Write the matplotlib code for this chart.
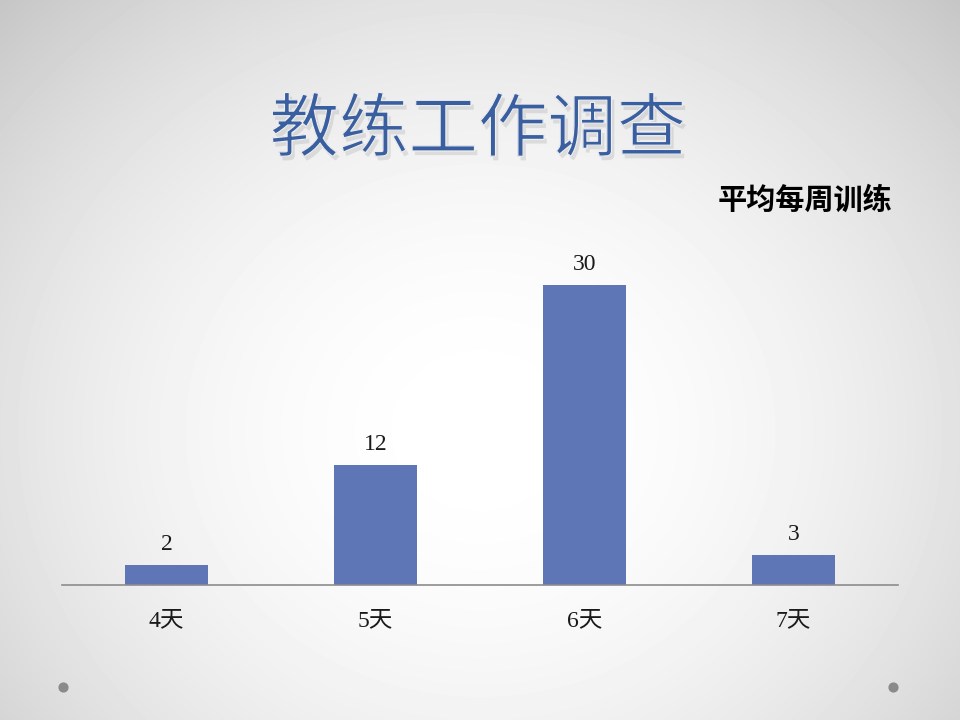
import matplotlib
matplotlib.use('Agg')
import matplotlib.pyplot as plt
import matplotlib.patheffects as pe
import numpy as np

plt.rcParams['font.family'] = ['Liberation Serif', 'Noto Sans CJK SC']

categories = ['4天', '5天', '6天', '7天']
values = [2, 12, 30, 3]
title = '教练工作调查'
subtitle = '平均每周训练'

fig = plt.figure(figsize=(9.6, 7.2), dpi=100)

# slide background: soft radial gradient, white low in the middle, grey corners
bg = fig.add_axes([0, 0, 1, 1])
yy, xx = np.mgrid[0:720, 0:960]
r = np.sqrt(((xx - 480) / 620.0) ** 2 + ((yy - 430) / 560.0) ** 2)
shade = np.clip(1 - 0.19 * r ** 2.0, 0, 1)
bg.imshow(shade, cmap='gray', vmin=0, vmax=1, extent=[0, 960, 720, 0], aspect='auto')
bg.set_xlim(0, 960)
bg.set_ylim(720, 0)
bg.axis('off')
bg.scatter([63, 893], [687, 687], s=40, color='#8a8a8a', zorder=3)

ax = fig.add_axes([62 / 960, 1 - 585 / 720, (898 - 62) / 960, 0.56])
ax.patch.set_alpha(0)
x = np.arange(len(categories))
bars = ax.bar(x, values, width=0.4, color='#5f76b6', zorder=2)
for b, v in zip(bars, values):
    ax.annotate(str(v), (b.get_x() + b.get_width() / 2, v), xytext=(0, 15),
                textcoords='offset points', ha='center', va='center',
                fontsize=17, color='#1a1a1a')
ax.set_xlim(-0.5, 3.5)
ax.set_ylim(0, 40.3)
ax.set_xticks(x)
ax.set_xticklabels(categories, fontsize=17, color='#1a1a1a')
ax.tick_params(axis='x', length=0, pad=18)
ax.set_yticks([])
for s in ['top', 'right', 'left']:
    ax.spines[s].set_visible(False)
ax.spines['bottom'].set_color('#8c8c8c')
ax.spines['bottom'].set_linewidth(1.2)

# a thin background-coloured outline makes the regular weight look lighter
fig.text(0.498, 0.818, title, ha='center', va='center', fontsize=50,
         family=['Noto Sans CJK SC'], color='#3a5fa0',
         path_effects=[pe.withSimplePatchShadow(offset=(2, -3), alpha=0.18, shadow_rgbFace='#777777'),
                       pe.Normal(),
                       pe.Stroke(linewidth=0.9, foreground='#eeeeee')])
fig.text(892 / 960, 1 - 200 / 720, subtitle, ha='right', va='center', fontsize=21,
         family=['Noto Sans CJK SC'], weight='bold', color='black')

fig.savefig('out.png', dpi=100)
